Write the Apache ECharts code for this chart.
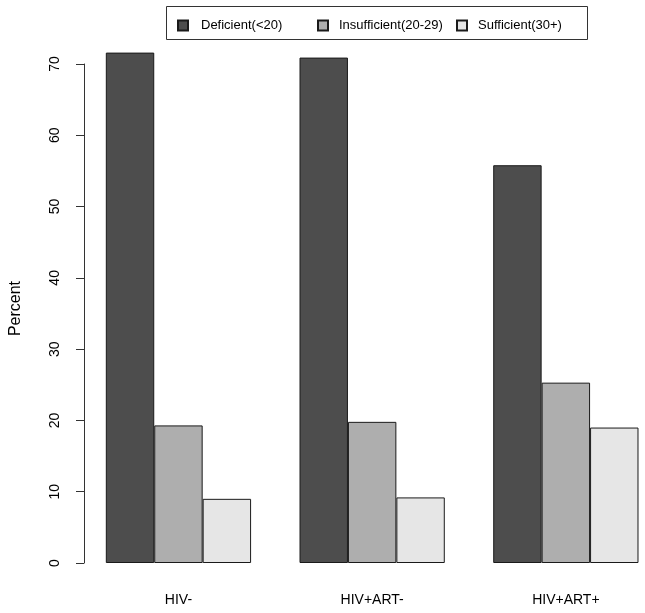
<!DOCTYPE html>
<html>
<head>
<meta charset="utf-8">
<script src="https://cdn.jsdelivr.net/npm/echarts@6/dist/echarts.min.js"></script>
<style>
html,body{margin:0;padding:0;background:#fff;overflow:hidden;width:645px;height:613px;}
#chart{width:680px;height:613px;}
</style>
</head>
<body>
<div id="chart"></div>
<script>
// Data
const categories = ['HIV-', 'HIV+ART-', 'HIV+ART+'];
const seriesNames = ['Deficient(<20)', 'Insufficient(20-29)', 'Sufficient(30+)'];
const deficient = [71.6, 70.9, 55.8];
const insufficient = [19.3, 19.8, 25.3];
const sufficient = [9.0, 9.2, 19.0];
const yTicks = [0, 10, 20, 30, 40, 50, 60, 70];

const colors = ['#4D4D4D', '#AEAEAE', '#E6E6E6'];
const values = [deficient, insufficient, sufficient];
const FONT = 'Liberation Sans, Arial, sans-serif';

const chart = echarts.init(document.getElementById('chart'), null, {renderer: 'canvas'});

const legendLefts = [177, 317, 456];
const legendPads = [8, 6, 6];
const legends = seriesNames.map((n, i) => ({
  data: [n],
  left: legendLefts[i],
  top: 19,
  padding: 0,
  itemWidth: 10,
  itemHeight: 10,
  icon: 'rect',
  selectedMode: false,
  textStyle: {fontFamily: FONT, fontSize: 13, color: '#000', padding: [0, 0, 0, legendPads[i]]}
}));

const option = {
  animation: false,
  backgroundColor: '#fff',
  legend: legends,
  graphic: [{
    type: 'rect',
    shape: {x: 166.5, y: 6.5, width: 421, height: 33},
    style: {fill: 'none', stroke: '#333', lineWidth: 1},
    silent: true
  }],
  grid: {left: 78.3, top: 64, width: 584.4, height: 499, containLabel: false},
  xAxis: {
    type: 'category',
    data: categories,
    axisLine: {show: false},
    axisTick: {show: false},
    axisLabel: {fontFamily: FONT, fontSize: 14, color: '#000', margin: 30}
  },
  yAxis: {
    type: 'value',
    min: yTicks[0],
    max: yTicks[yTicks.length - 1],
    interval: 10,
    offset: -2.4,
    name: 'Percent',
    nameLocation: 'middle',
    nameGap: 60,
    nameRotate: 90,
    nameTextStyle: {fontFamily: FONT, fontSize: 16, color: '#000', padding: [0, 0, 0, 10]},
    axisLine: {show: true, lineStyle: {color: '#333', width: 1}},
    axisTick: {show: true, length: 8, lineStyle: {color: '#333', width: 1}},
    axisLabel: {fontFamily: FONT, fontSize: 14, color: '#000', rotate: 90, margin: 22},
    splitLine: {show: false}
  },
  series: seriesNames.map((n, i) => ({
    name: n,
    type: 'bar',
    data: values[i],
    clip: false,
    barGap: '0%',
    barCategoryGap: '25%',
    itemStyle: {color: colors[i], borderColor: '#1a1a1a', borderWidth: 1},
    emphasis: {disabled: true}
  }))
};
chart.setOption(option);
</script>
</body>
</html>
